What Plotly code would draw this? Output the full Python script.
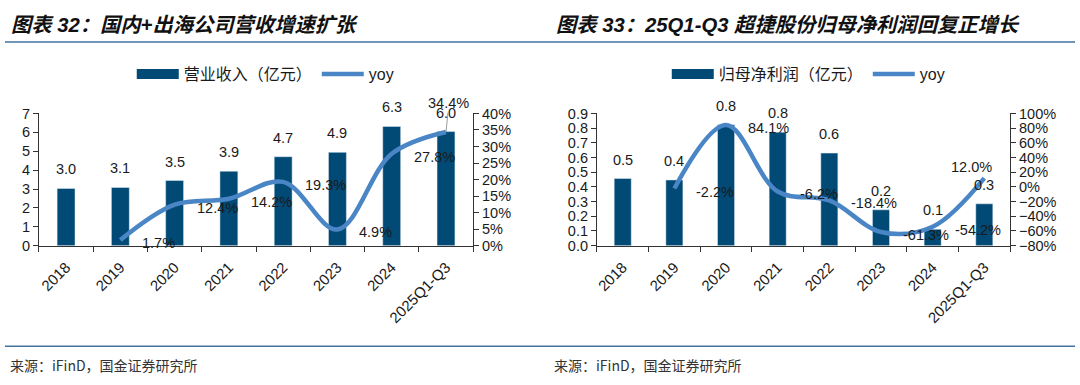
import plotly.graph_objects as go

W, H = 1080, 385

# ---------------- data ----------------
cats = ["2018", "2019", "2020", "2021", "2022", "2023", "2024", "2025Q1-Q3"]
revenue = [3.03, 3.08, 3.45, 3.94, 4.71, 4.94, 6.31, 6.04]          # 营业收入（亿元）
revenue_yoy = [None, 1.7, 12.4, 14.2, 19.3, 4.9, 27.8, 34.4]        # %
profit = [0.457, 0.447, 0.823, 0.772, 0.630, 0.244, 0.112, 0.285]   # 归母净利润（亿元）
profit_yoy = [None, -2.2, 84.1, -6.2, -18.4, -61.3, -54.2, 12.0]    # %

title_left = "图表 32：国内+出海公司营收增速扩张"
title_right = "图表 33：25Q1-Q3 超捷股份归母净利润回复正增长"
source_text = "来源：iFinD，国金证券研究所"
name_rev = "营业收入（亿元）"
name_profit = "归母净利润（亿元）"
name_yoy = "yoy"

# ---------------- style ----------------
BAR = "#004a75"
LINE = "#4a86c6"
AXIS = "#333333"
TXT = "#1a1a1a"
RULE = "#41729f"
LATIN = "Liberation Sans, Arial, Noto Sans CJK SC, sans-serif"
CJK = "Noto Sans CJK SC, Liberation Sans, sans-serif"
FS = 14.5


def px_x(v):
    return v / W


def px_y(v):
    return 1 - v / H


dom_left = [px_x(37), px_x(472)]
dom_right = [px_x(596), px_x(1010)]
dom_y = [px_y(248), px_y(110)]

fig = go.Figure()

# bars
fig.add_trace(go.Bar(x=cats, y=revenue, marker_color=BAR, width=0.33,
                     xaxis="x", yaxis="y", showlegend=False, hoverinfo="skip"))
fig.add_trace(go.Bar(x=cats, y=profit, marker_color=BAR, width=0.33,
                     xaxis="x2", yaxis="y3", showlegend=False, hoverinfo="skip"))

# legend proxies for the bar swatch
fig.add_trace(go.Scatter(x=[None], y=[None], mode="lines", name=name_rev,
                         line=dict(color=BAR, width=11), xaxis="x", yaxis="y",
                         legend="legend"))
fig.add_trace(go.Scatter(x=[None], y=[None], mode="lines", name=name_profit,
                         line=dict(color=BAR, width=11), xaxis="x2", yaxis="y3",
                         legend="legend2"))

# yoy lines
fig.add_trace(go.Scatter(x=cats[1:], y=[v / 100 for v in revenue_yoy[1:]], mode="lines",
                         name=name_yoy, line=dict(color=LINE, width=4.5, shape="spline", smoothing=1),
                         xaxis="x", yaxis="y2", legend="legend", hoverinfo="skip"))
fig.add_trace(go.Scatter(x=cats[1:], y=[v / 100 for v in profit_yoy[1:]], mode="lines",
                         name=name_yoy, line=dict(color=LINE, width=4.5, shape="spline", smoothing=1),
                         xaxis="x2", yaxis="y4", legend="legend2", hoverinfo="skip"))

ann = []
lab_font = dict(family=LATIN, size=FS, color=TXT)

# bar value labels (x given as category index)
for xr, yr, vals in (("x", "y", revenue), ("x2", "y3", profit)):
    for i, v in enumerate(vals):
        ann.append(dict(x=i, y=v, xref=xr, yref=yr, text=f"{v:.1f}", showarrow=False,
                        yshift=19, font=lab_font))

# yoy labels (default: right of point); per-point overrides
overrides_left = {7: dict(arrow=True, ax=3, ay=-29)}
overrides_right = {7: dict(xanchor="center", xshift=-13, yshift=11)}
for xr, yr, vals, ov in (("x", "y2", revenue_yoy, overrides_left),
                          ("x2", "y4", profit_yoy, overrides_right)):
    for i, v in enumerate(vals):
        if v is None:
            continue
        a = dict(x=i, y=v / 100, xref=xr, yref=yr, text=f"{v:.1f}%", font=lab_font)
        o = ov.get(i)
        if o and o.get("arrow"):
            a.update(showarrow=True, arrowhead=0, arrowwidth=1, arrowcolor="#9a9a9a",
                     ax=o["ax"], ay=o["ay"], standoff=0)
        elif o:
            a.update(showarrow=False, xanchor=o["xanchor"], xshift=o["xshift"], yshift=o["yshift"])
        else:
            a.update(showarrow=False, xanchor="left", xshift=20, yshift=-3)
        ann.append(a)

# titles and sources
title_font = dict(family=LATIN, size=20.3, color="#111111", weight="bold", style="italic")
ann.append(dict(x=px_x(7), y=px_y(18), xref="paper", yref="paper", xanchor="left", yanchor="middle",
                text=title_left, showarrow=False, font=title_font))
ann.append(dict(x=px_x(553), y=px_y(18), xref="paper", yref="paper", xanchor="left", yanchor="middle",
                text=title_right, showarrow=False, font=title_font))
src_font = dict(family=CJK, size=14, color="#333333")
ann.append(dict(x=px_x(6), y=px_y(373), xref="paper", yref="paper", xanchor="left", yanchor="middle",
                text=source_text, showarrow=False, font=src_font))
ann.append(dict(x=px_x(551), y=px_y(373), xref="paper", yref="paper", xanchor="left", yanchor="middle",
                text=source_text, showarrow=False, font=src_font))

shapes = [
    dict(type="line", xref="paper", yref="paper", x0=px_x(3), x1=px_x(1075), y0=px_y(35.5), y1=px_y(35.5),
         line=dict(color=RULE, width=1.5)),
    dict(type="line", xref="paper", yref="paper", x0=px_x(3), x1=px_x(1075), y0=px_y(353), y1=px_y(353),
         line=dict(color=RULE, width=1.5)),
]

tick_font = dict(family=LATIN, size=FS, color=TXT)
xcommon = dict(type="category", showline=True, linecolor=AXIS, linewidth=1, ticks="outside",
               tickson="boundaries", ticklen=5, tickcolor=AXIS, tickangle=-45,
               ticklabelstandoff=6,
               tickfont=dict(family=LATIN, size=15, color=TXT), showgrid=False, zeroline=False,
               fixedrange=True)
ycommon = dict(showline=True, linecolor=AXIS, linewidth=1, ticks="outside", ticklen=5,
               tickcolor=AXIS, tickfont=tick_font, showgrid=False, zeroline=False)

legend_common = dict(orientation="h", yanchor="middle", y=px_y(69), xanchor="left",
                     font=dict(family=LATIN, size=16, color=TXT), bgcolor="rgba(0,0,0,0)",
                     itemwidth=42, tracegroupgap=0)

fig.update_layout(
    width=W, height=H, margin=dict(l=0, r=0, t=0, b=0),
    paper_bgcolor="white", plot_bgcolor="white",
    xaxis=dict(domain=dom_left, anchor="y", range=[-0.5, 7.5], **xcommon),
    yaxis=dict(domain=dom_y, anchor="x", range=[0, 7], dtick=1, tickformat="d", **ycommon),
    yaxis2=dict(domain=dom_y, anchor="x", overlaying="y", side="right", range=[0, 0.4], dtick=0.05,
                tickformat=".0%", **ycommon),
    xaxis2=dict(domain=dom_right, anchor="y3", range=[-0.5, 7.5], **xcommon),
    yaxis3=dict(domain=dom_y, anchor="x2", range=[0, 0.9], dtick=0.1, tickformat=".1f", **ycommon),
    yaxis4=dict(domain=dom_y, anchor="x2", overlaying="y3", side="right", range=[-0.8, 1.0], dtick=0.2,
                tickformat=".0%", **ycommon),
    legend=dict(x=px_x(130), **legend_common),
    legend2=dict(x=px_x(666), **legend_common),
    annotations=ann, shapes=shapes, showlegend=True,
)

fig.write_html("out.html", config={"displayModeBar": False},
               post_script="document.body.style.margin='0';")
